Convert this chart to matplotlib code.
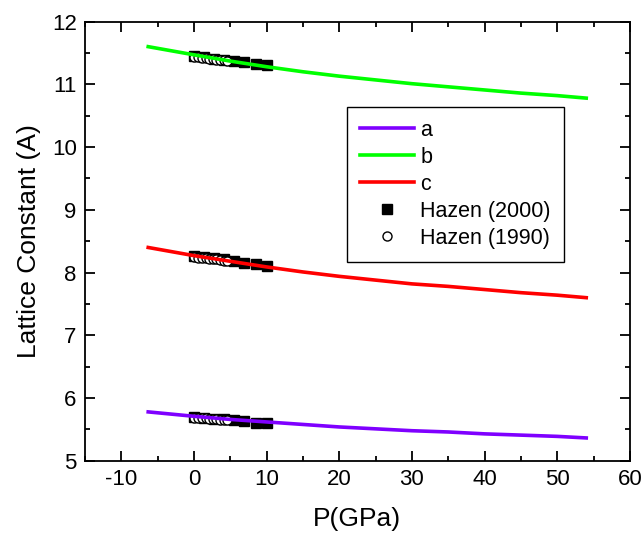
import numpy as np
import matplotlib
matplotlib.use("Agg")
import matplotlib.pyplot as plt
from matplotlib.ticker import MultipleLocator

plt.rcParams['font.family'] = ['Liberation Sans', 'DejaVu Sans']
plt.rcParams['axes.unicode_minus'] = False

# calculated curves (pressure in GPa, lattice constants in A)
p_calc = [-6.3, 0, 5, 10, 15, 20, 25, 30, 35, 40, 45, 50, 54]
a_calc = [5.78, 5.71, 5.66, 5.62, 5.58, 5.54, 5.51, 5.48, 5.46, 5.43, 5.41, 5.39, 5.365]
b_calc = [11.60, 11.47, 11.37, 11.28, 11.20, 11.13, 11.07, 11.01, 10.96, 10.91, 10.86, 10.82, 10.78]
c_calc = [8.40, 8.27, 8.18, 8.09, 8.01, 7.94, 7.88, 7.82, 7.78, 7.73, 7.68, 7.64, 7.60]

# Hazen (2000) experiment
p_2000 = [0.0, 1.4, 2.8, 4.2, 5.5, 6.9, 8.5, 10.1]
a_2000 = [5.70, 5.69, 5.67, 5.66, 5.645, 5.63, 5.61, 5.60]
b_2000 = [11.45, 11.43, 11.41, 11.39, 11.37, 11.35, 11.33, 11.31]
c_2000 = [8.27, 8.25, 8.23, 8.21, 8.19, 8.16, 8.13, 8.10]

# Hazen (1990) experiment
p_1990 = [0.0, 0.6, 1.1, 1.6, 2.1, 2.6, 3.1, 3.6, 4.1, 4.6]
a_1990 = [5.69, 5.685, 5.68, 5.675, 5.67, 5.665, 5.66, 5.655, 5.65, 5.645]
b_1990 = [11.44, 11.43, 11.42, 11.415, 11.41, 11.40, 11.395, 11.39, 11.38, 11.37]
c_1990 = [8.25, 8.24, 8.235, 8.23, 8.22, 8.215, 8.21, 8.20, 8.19, 8.18]

fig = plt.figure(figsize=(6.44, 5.39), dpi=100)
ax = fig.add_axes([0.132, 0.145, 0.846, 0.815])

lw = 2.6
ax.plot(p_calc, a_calc, color='#7f00ff', lw=lw, label='a', zorder=3)
ax.plot(p_calc, b_calc, color='#00ff00', lw=lw, label='b', zorder=3)
ax.plot(p_calc, c_calc, color='#ff0000', lw=lw, label='c', zorder=3)

for i, ys in enumerate([a_2000, b_2000, c_2000]):
    ax.plot(p_2000, ys, 's', color='black', ms=7, zorder=2,
            label='Hazen (2000)' if i == 0 else None)
for i, ys in enumerate([a_1990, b_1990, c_1990]):
    ax.plot(p_1990, ys, 'o', mfc='white', mec='black', mew=1.0, ms=6.5, zorder=2,
            label='Hazen (1990)' if i == 0 else None)

ax.set_xlim(-15, 60)
ax.set_ylim(5, 12)
ax.xaxis.set_major_locator(MultipleLocator(10))
ax.xaxis.set_minor_locator(MultipleLocator(5))
ax.yaxis.set_major_locator(MultipleLocator(1))
ax.yaxis.set_minor_locator(MultipleLocator(0.5))
ax.tick_params(which='both', direction='in', top=True, right=True, width=1.3, labelsize=16)
ax.tick_params(which='major', length=7, pad=6)
ax.tick_params(which='minor', length=3.5)
for s in ax.spines.values():
    s.set_linewidth(1.3)

ax.set_xlabel('P(GPa)', fontsize=19, labelpad=12)
ax.set_ylabel('Lattice Constant (A)', fontsize=19, labelpad=8)

leg = ax.legend(loc='upper left', bbox_to_anchor=(0.481, 0.806), fontsize=15.5,
                frameon=True, fancybox=False, edgecolor='black', framealpha=1,
                handlelength=2.5, handletextpad=0.3, labelspacing=0.28,
                borderpad=0.6, borderaxespad=0)
leg.get_frame().set_linewidth(1.0)

fig.savefig('out.png', dpi=100)
